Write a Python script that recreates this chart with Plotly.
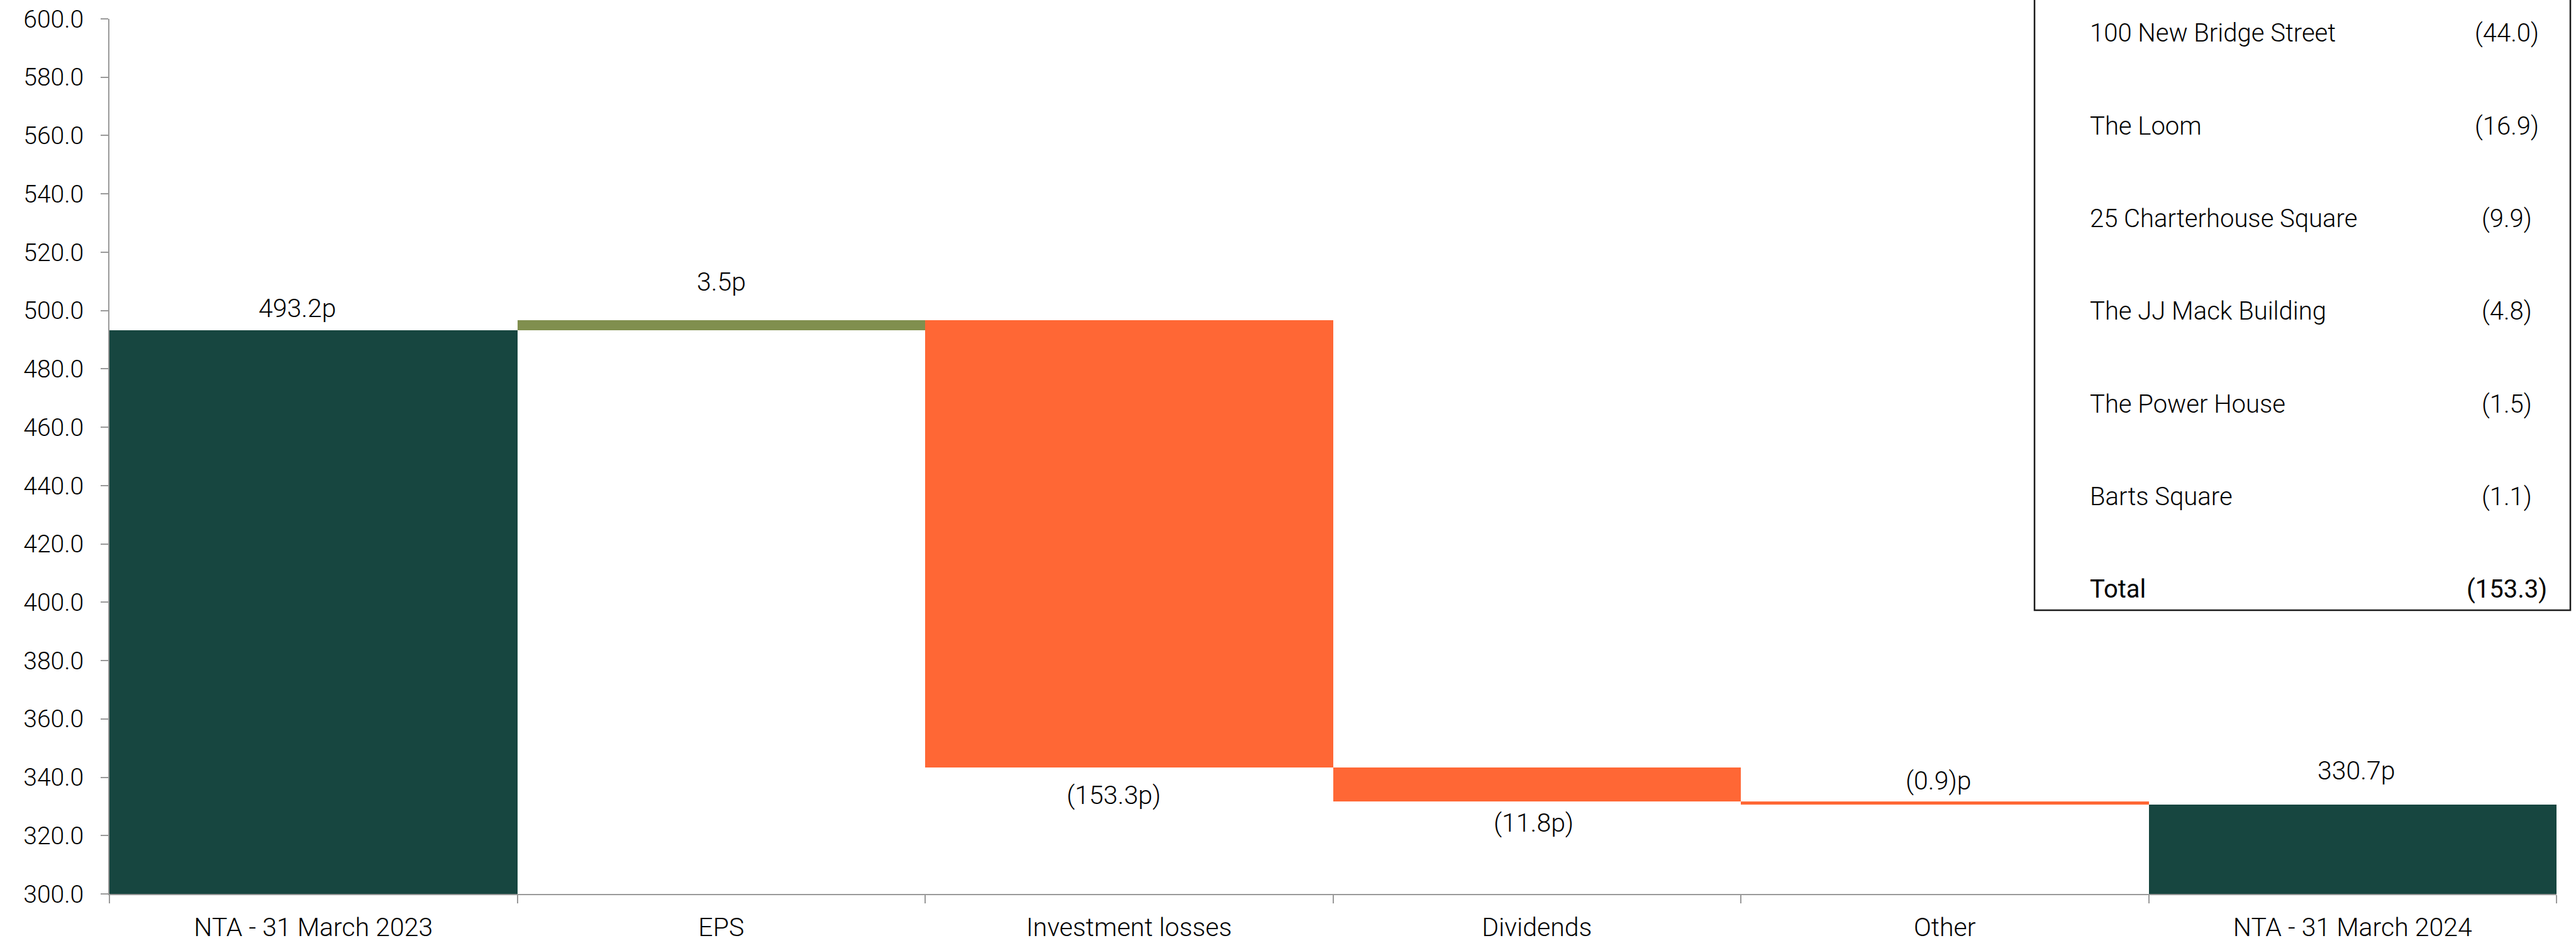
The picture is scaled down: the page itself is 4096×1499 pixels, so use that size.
import plotly.graph_objects as go

# ---- data ----
categories = ["NTA - 31 March 2023", "EPS", "Investment losses", "Dividends", "Other", "NTA - 31 March 2024"]
values = [493.2, 3.5, -153.3, -11.8, -0.9, 330.7]
measures = ["absolute", "relative", "relative", "relative", "relative", "total"]
bar_labels = ["493.2p", "3.5p", "(153.3p)", "(11.8p)", "(0.9)p", "330.7p"]

table_names = ["100 New Bridge Street", "The Loom", "25 Charterhouse Square",
               "The JJ Mack Building", "The Power House", "Barts Square", "Total"]
table_values = ["(44.0)", "(16.9)", "(9.9)", "(4.8)", "(1.5)", "(1.1)", "(153.3)"]

# ---- style ----
W, H = 4096, 1499
ML, MR, MT, MB = 174, 31, 30, 78
FONT = "Roboto, Liberation Sans, Arial, sans-serif"
FS = 41
WT = 300
DARK = "#174640"
OLIVE = "#808F4E"
ORANGE = "#FF6735"
AXIS = "#999999"

fig = go.Figure(go.Waterfall(
    x=categories, y=values, measure=measures,
    increasing=dict(marker=dict(color=OLIVE, line=dict(width=0))),
    decreasing=dict(marker=dict(color=ORANGE, line=dict(width=0))),
    totals=dict(marker=dict(color=DARK, line=dict(width=0))),
    connector=dict(visible=False),
    hoverinfo="skip",
))

# bar label placement: above top or below bottom, with pixel offsets
place = ["top", "top", "bottom", "bottom", "top", "top"]
offsets = [35, 61, 44, 34, 33, 54]
xshifts = [-25, 0, -24, -5, -10, 6]
level = 0.0
for i, (c, v, m) in enumerate(zip(categories, values, measures)):
    if m == "absolute":
        lo, hi = 300, v
        level = v
    elif m == "total":
        lo, hi = 300, level
    else:
        lo, hi = min(level, level + v), max(level, level + v)
        level += v
    if place[i] == "top":
        y, sh = hi, offsets[i]
    else:
        y, sh = lo, -offsets[i]
    fig.add_annotation(x=c, y=y, xref="x", yref="y", text=bar_labels[i],
                       showarrow=False, yshift=sh, xshift=xshifts[i], yanchor="middle",
                       font=dict(family=FONT, size=FS, color="#000000", weight=WT))

# table box (pixel -> paper)
PW, PH = W - ML - MR, H - MT - MB
def px(x):
    return (x - ML) / PW
def py(y):
    return (H - MB - y) / PH

fig.add_shape(type="rect", xref="paper", yref="paper",
              x0=px(3235), x1=px(4087), y0=py(970), y1=py(-20),
              line=dict(color="#1a1a1a", width=2.5), fillcolor="white", layer="above")

row_y0, row_step = 53, 147.3
for k, (n, v) in enumerate(zip(table_names, table_values)):
    yy = row_y0 + k * row_step
    w = 400 if n == "Total" else WT
    fig.add_annotation(x=px(3321), y=py(yy), xref="paper", yref="paper", text=n,
                       showarrow=False, xanchor="left", yanchor="middle",
                       font=dict(family=FONT, size=FS - 1, color="#000000", weight=w))
    fig.add_annotation(x=px(3986), y=py(yy), xref="paper", yref="paper", text=v,
                       showarrow=False, xanchor="center", yanchor="middle",
                       font=dict(family=FONT, size=FS - 1, color="#000000", weight=w))

fig.update_layout(
    width=W, height=H,
    margin=dict(l=ML, r=MR, t=MT, b=MB, pad=0, autoexpand=False),
    paper_bgcolor="white", plot_bgcolor="white",
    showlegend=False, waterfallgap=0,
    font=dict(family=FONT, size=FS, color="#000000", weight=WT),
)
fig.update_xaxes(type="category", tickson="boundaries", ticks="outside", ticklen=13,
                 tickwidth=2, tickcolor=AXIS, showline=True, linecolor=AXIS, linewidth=2,
                 showgrid=False, zeroline=False, ticklabelstandoff=16, automargin=False,
                 tickfont=dict(family=FONT, size=FS, color="#000000", weight=WT))
fig.update_yaxes(range=[300, 600], dtick=20, tick0=300, tickformat=".1f", ticks="outside",
                 ticklen=12, tickwidth=2, tickcolor=AXIS, showline=True, linecolor=AXIS,
                 linewidth=2, showgrid=False, zeroline=False, ticklabelstandoff=19,
                 automargin=False,
                 tickfont=dict(family=FONT, size=39, color="#000000", weight=WT))

fig.write_html("out.html")
